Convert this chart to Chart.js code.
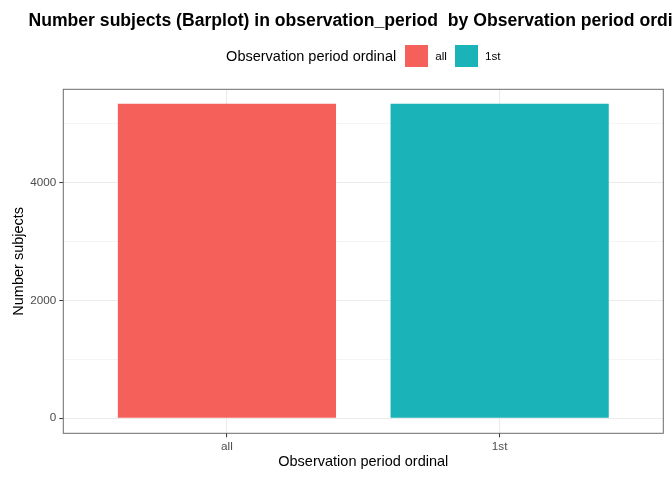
<!DOCTYPE html>
<html lang="en">
<head>
  <meta charset="UTF-8">
  <title>Number subjects (Barplot) in observation_period</title>
  <script src="https://cdn.jsdelivr.net/npm/chart.js"></script>
  <style>
    html, body { margin: 0; padding: 0; background: #fff; overflow: hidden; }
    #wrap { position: relative; width: 672px; height: 480px; }
    #legend {
      position: absolute; top: 44px; height: 23px;
      display: flex; justify-content: center; align-items: center;
      font-family: "Liberation Sans", Arial, sans-serif; color: #000;
    }
    #legend .ttl { font-size: 14.5px; margin-right: 9px; }
    #legend .key { display: inline-block; width: 23px; height: 22px; margin-right: 7px; }
    #legend .lab { font-size: 11.7px; margin-right: 8px; }
    #legend .lab:last-child { margin-right: 0; }
  </style>
</head>
<body>
  <div id="wrap">
    <canvas id="myChart"></canvas>
    <div id="legend"></div>
  </div>

  <script>
    const chartTitle = 'Number subjects (Barplot) in observation_period  by Observation period ordinal';
    const legendTitle = 'Observation period ordinal';
    const categories = ['all', '1st'];
    const subjectCounts = [5340, 5340];
    const barColors = ['#F5605B', '#1AB3B8'];
    const yTicks = [0, 1000, 2000, 3000, 4000, 5000];
    const yTickLabels = ['0', '', '2000', '', '4000', ''];

    const FONT = '"Liberation Sans", Arial, sans-serif';
    const yMax = Math.max(...subjectCounts);
    const isMajor = c => c.tick && yTickLabels[yTicks.indexOf(c.tick.value)] !== '';

    // titolo centrato sul pannello + bordo del pannello (stile theme_bw)
    const ggDecor = {
      id: 'ggDecor',
      afterDraw(chart) {
        const { ctx, chartArea: a } = chart;
        ctx.save();
        ctx.strokeStyle = '#6b6b6b';
        ctx.lineWidth = 1;
        ctx.strokeRect(a.left, a.top, a.right - a.left, a.bottom - a.top);
        ctx.fillStyle = '#000';
        ctx.font = 'bold 17.6px ' + FONT;
        ctx.textAlign = 'center';
        ctx.textBaseline = 'alphabetic';
        ctx.fillText(chartTitle, (a.left + a.right) / 2, 26);
        ctx.restore();
      }
    };

    // legenda in HTML con titolo in linea
    const htmlLegend = {
      id: 'htmlLegend',
      afterUpdate(chart) {
        const box = document.getElementById('legend');
        const a = chart.chartArea;
        box.style.left = a.left + 'px';
        box.style.width = (a.right - a.left) + 'px';
        box.innerHTML = '';
        const t = document.createElement('span');
        t.className = 'ttl';
        t.textContent = legendTitle;
        box.appendChild(t);
        chart.options.plugins.legend.labels.generateLabels(chart).forEach(item => {
          const k = document.createElement('span');
          k.className = 'key';
          k.style.background = item.fillStyle;
          const l = document.createElement('span');
          l.className = 'lab';
          l.textContent = item.text;
          box.appendChild(k);
          box.appendChild(l);
        });
      }
    };

    const ctx = document.getElementById('myChart').getContext('2d');
    new Chart(ctx, {
      type: 'bar',
      data: {
        datasets: categories.map((c, i) => ({
          label: c,
          data: [{ x: i + 1, y: subjectCounts[i] }],
          backgroundColor: barColors[i],
          borderWidth: 0,
          grouped: false,
          barPercentage: 1,
          categoryPercentage: 0.8
        }))
      },
      options: {
        responsive: true,
        maintainAspectRatio: false,
        animation: false,
        layout: { padding: { top: 89.3, right: 8.7, bottom: 0, left: 0 } },
        plugins: {
          legend: { display: false },
          title: { display: false },
          tooltip: { enabled: false }
        },
        scales: {
          x: {
            type: 'linear',
            offset: false,
            min: 0.4,
            max: categories.length + 0.6,
            afterFit: s => { s.height = 46.7; },
            afterBuildTicks: s => { s.ticks = categories.map((c, i) => ({ value: i + 1 })); },
            border: { display: false },
            grid: {
              offset: false,
              color: '#EBEBEB',
              lineWidth: 1.1,
              tickColor: '#333333',
              tickWidth: 1,
              tickLength: 4
            },
            ticks: {
              autoSkip: false,
              maxRotation: 0,
              padding: 2,
              color: '#4D4D4D',
              font: { family: FONT, size: 11.7 },
              callback: v => categories[v - 1] ?? ''
            },
            title: {
              display: true,
              text: 'Observation period ordinal',
              color: '#000',
              font: { family: FONT, size: 14.5 },
              padding: { top: 0, bottom: 9 }
            }
          },
          y: {
            min: -0.048 * yMax,
            max: 1.046 * yMax,
            afterFit: s => { s.width = 63.3; },
            afterBuildTicks: s => { s.ticks = yTicks.map(v => ({ value: v })); },
            border: { display: false },
            grid: {
              color: '#EBEBEB',
              lineWidth: c => isMajor(c) ? 1.1 : 0.55,
              tickColor: c => isMajor(c) ? '#333333' : 'rgba(0,0,0,0)',
              tickWidth: 1,
              tickLength: 4
            },
            ticks: {
              autoSkip: false,
              padding: 3,
              color: '#4D4D4D',
              font: { family: FONT, size: 11.7 },
              callback: v => yTickLabels[yTicks.indexOf(v)] ?? ''
            },
            title: {
              display: true,
              text: 'Number subjects',
              color: '#000',
              font: { family: FONT, size: 14.5 },
              padding: { top: 10.5, bottom: 0 }
            }
          }
        }
      },
      plugins: [ggDecor, htmlLegend]
    });
  </script>
</body>
</html>
